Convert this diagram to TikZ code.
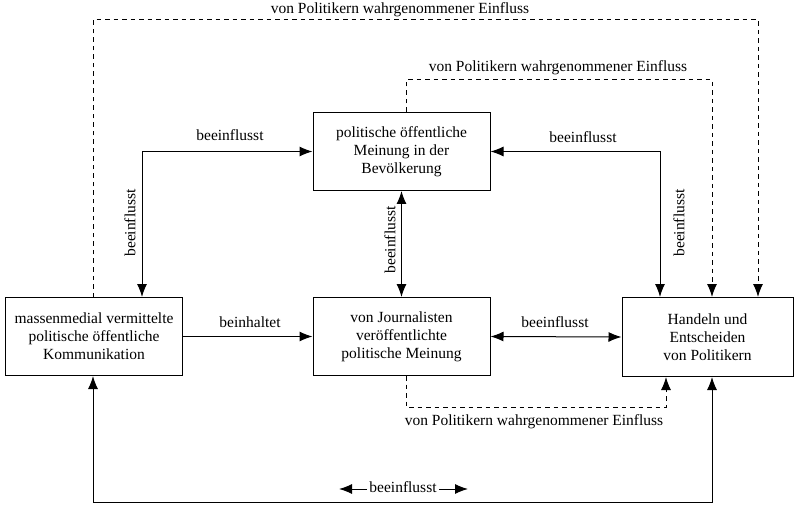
\documentclass[tikz,border=0pt]{standalone}
\usepackage{fontspec}
\setmainfont{Liberation Serif}
\usetikzlibrary{arrows.meta}
\begin{document}
\begin{tikzpicture}[x=1pt,y=-1pt,
  font=\fontsize{15.5}{18}\selectfont,
  tip/.tip={Latex[length=13pt,width=10pt]},
  box/.style={draw,line width=1pt,align=center,inner sep=0pt,minimum height=78pt},
  conn/.style={line width=1pt,-tip},
  bconn/.style={line width=1pt,tip-tip},
  dconn/.style={line width=1pt,dash pattern=on 4.5pt off 4pt,-tip},
  lbl/.style={inner sep=1pt}]
\useasboundingbox (0,0) rectangle (798,505);
\node[box,minimum width=177pt] (mk) at (94,336.5) {massenmedial vermittelte\\politische öffentliche\\Kommunikation};
\node[box,minimum width=177pt] (bev) at (401.5,151.5) {politische öffentliche\\Meinung in der\\Bevölkerung};
\node[box,minimum width=177pt] (jour) at (401.5,336.5) {von Journalisten\\veröffentlichte\\politische Meinung};
\node[box,minimum width=171pt,minimum height=79pt] (pol) at (707.5,337) {Handeln und\\Entscheiden\\von Politikern};
% helper coordinates
\coordinate (xa) at (142,0);
\coordinate (xb) at (660,0);
\coordinate (xc) at (93,20);
\coordinate (xd) at (758,20);
\coordinate (xe) at (406,80);
\coordinate (xf) at (712,80);
\coordinate (xg) at (406,407);
\coordinate (xh) at (666,407);
\coordinate (xi) at (93,502);
\coordinate (xj) at (712,502);
% solid connectors
\draw[bconn] (mk.north -| xa) |- (bev.west);
\draw[bconn] (bev.east) -| (pol.north -| xb);
\draw[bconn] (bev.south) -- (jour.north);
\draw[conn] (mk.east) -- (jour.west);
\draw[bconn] (jour.east) -- (pol.west);
\draw[bconn] (mk.south -| xi) -- (xi) -- (xj) -- (pol.south -| xj);
% dashed connectors
\draw[dconn] (mk.north -| xc) -- (xc) -- (xd) -- (pol.north -| xd);
\draw[dconn] (bev.north -| xe) -- (xe) -- (xf) -- (pol.north -| xf);
\draw[dconn] (jour.south -| xg) -- (xg) -- (xh) -- (pol.south -| xh);
% labels
\node[lbl] (l1) at (230,135) {beeinflusst};
\node[lbl,rotate=90] (l2) at (130,223) {beeinflusst};
\node[lbl] (l3) at (583,137) {beeinflusst};
\node[lbl,rotate=90] (l4) at (679,223) {beeinflusst};
\node[lbl,rotate=90] (l5) at (390,240) {beeinflusst};
\node[lbl] (l6) at (250,322) {beinhaltet};
\node[lbl] (l7) at (555,322) {beeinflusst};
\node[lbl] (l8) at (400,10) {von Politikern wahrgenommener Einfluss};
\node[lbl] (l9) at (558,68) {von Politikern wahrgenommener Einfluss};
\node[lbl] (l10) at (534,422) {von Politikern wahrgenommener Einfluss};
\node[lbl,inner sep=2pt] (l11) at (403,487) {beeinflusst};
\coordinate (al) at (339,489);
\coordinate (ar) at (468,489);
\draw[conn] (l11.west |- al) -- (al);
\draw[conn] (l11.east |- ar) -- (ar);
\end{tikzpicture}
\end{document}
